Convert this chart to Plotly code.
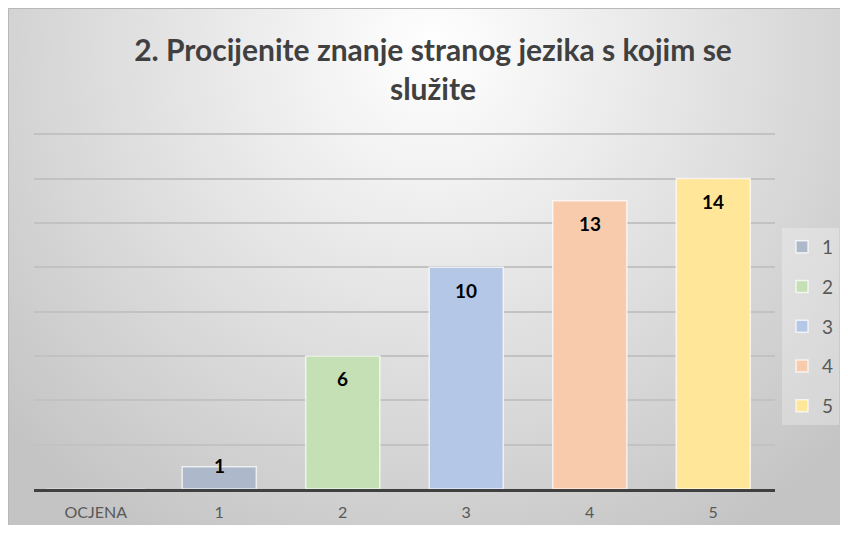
import base64
import plotly.graph_objects as go

# ---- data ----
categories = ["OCJENA", "1", "2", "3", "4", "5"]
series_names = ["1", "2", "3", "4", "5"]
series_values = [1, 6, 10, 13, 14]
bar_colors = ["#adb9ca", "#c5e0b4", "#b4c7e7", "#f8cbad", "#ffe699"]
title_text = "2. Procijenite znanje stranog jezika s kojim se<br>služite"

# figure is placed by the page at (8, 8)
W, H = 832, 517
ML, MR, MT, MB = 26, 65, 124, 36
pw = W - ML - MR
ph = H - MT - MB

fig = go.Figure()
fig.add_trace(go.Bar(x=["OCJENA"], y=[0], showlegend=False, hoverinfo="skip",
                     marker=dict(color="rgba(0,0,0,0)")))
for name, val, col in zip(series_names, series_values, bar_colors):
    fig.add_trace(go.Bar(
        x=[name], y=[val], name=name, legendgroup=name,
        marker=dict(color=col, line=dict(color="rgba(255,255,255,0.7)", width=1.5)),
        width=0.6, hoverinfo="x+y",
    ))

annotations = []
for name, val in zip(series_names, series_values):
    annotations.append(dict(
        x=name, y=val, xref="x", yref="y", text=str(val), showarrow=False,
        yanchor="middle", yshift=(-23 if val >= 3 else 1),
        font=dict(family="Lato", size=19, color="#000000", weight="bold"),
    ))

# radial gradient background (Excel-like chart area)
svg = (
    f'<svg xmlns="http://www.w3.org/2000/svg" width="{W}" height="{H}">'
    f'<defs><radialGradient id="g" gradientUnits="userSpaceOnUse" cx="424" cy="40" r="570">'
    f'<stop offset="0" stop-color="#ffffff"/><stop offset="1" stop-color="#c4c4c4"/>'
    f'</radialGradient></defs>'
    f'<rect width="{W}" height="{H}" fill="url(#g)"/>'
    f'<path d="M0.5,{H} V0.5 H{W}" stroke="#b8b8b8" stroke-width="1" fill="none"/>'
    f'</svg>'
)
src = "data:image/svg+xml;base64," + base64.b64encode(svg.encode()).decode()

fig.update_layout(
    width=W, height=H,
    margin=dict(l=ML, r=MR, t=MT, b=MB, pad=0, autoexpand=False),
    paper_bgcolor="#d8d8d8",
    plot_bgcolor="rgba(0,0,0,0)",
    barmode="overlay",
    showlegend=True,
    title=dict(
        text=title_text, x=425 / W, xanchor="center", xref="container",
        y=1 - 53 / H, yanchor="middle", yref="container",
        font=dict(family="Lato", size=30, color="#404040", weight="bold"),
    ),
    xaxis=dict(
        categoryorder="array", categoryarray=categories, range=[-0.5, 5.5],
        showline=True, linecolor="#404040", linewidth=3, automargin=False,
        showgrid=False, ticks="", ticklabelstandoff=7,
        tickfont=dict(family="Lato", size=16, color="#595959"),
        fixedrange=True,
    ),
    yaxis=dict(
        range=[0, 16.1], dtick=2, showticklabels=False, zeroline=False,
        showgrid=True, gridcolor="#c2c2c2", gridwidth=2, automargin=False,
        fixedrange=True,
    ),
    legend=dict(
        xref="container", yref="container",
        x=774 / W, xanchor="left", y=1 - 220 / H, yanchor="top",
        bgcolor="rgba(255,255,255,0.28)", borderwidth=0,
        font=dict(family="Lato", size=19, color="#595959"),
        tracegroupgap=12, itemclick=False, itemdoubleclick=False,
    ),
    annotations=annotations,
    images=[dict(
        source=src, xref="paper", yref="paper",
        x=-ML / pw, y=1 + MT / ph,
        sizex=W / pw, sizey=H / ph, sizing="stretch",
        xanchor="left", yanchor="top", layer="below",
    )],
)

fig.write_html("out.html")
